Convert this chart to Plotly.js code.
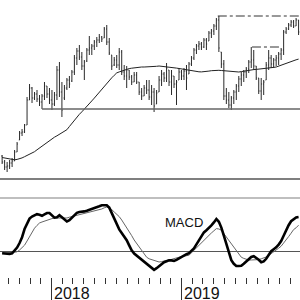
<!DOCTYPE html>
<html>
<head>
<meta charset="utf-8">
<script src="https://cdn.plot.ly/plotly-3.0.1.min.js"></script>
<style>html,body{margin:0;padding:0;background:#fff;}#chart{width:300px;height:300px;}</style>
</head>
<body>
<div id="chart"></div>
<script>
// Weekly dates
const dates = [
"2017-08-14","2017-08-21","2017-08-28","2017-09-04","2017-09-11","2017-09-18","2017-09-25","2017-10-02","2017-10-09","2017-10-16",
"2017-10-23","2017-10-30","2017-11-06","2017-11-13","2017-11-20","2017-11-27","2017-12-04","2017-12-11","2017-12-18","2017-12-25",
"2018-01-01","2018-01-08","2018-01-15","2018-01-22","2018-01-29","2018-02-05","2018-02-12","2018-02-19","2018-02-26","2018-03-05",
"2018-03-12","2018-03-19","2018-03-26","2018-04-02","2018-04-09","2018-04-16","2018-04-23","2018-04-30","2018-05-07","2018-05-14",
"2018-05-21","2018-05-28","2018-06-04","2018-06-11","2018-06-18","2018-06-25","2018-07-02","2018-07-09","2018-07-16","2018-07-23",
"2018-07-30","2018-08-06","2018-08-13","2018-08-20","2018-08-27","2018-09-03","2018-09-10","2018-09-17","2018-09-24","2018-10-01",
"2018-10-08","2018-10-15","2018-10-22","2018-10-29","2018-11-05","2018-11-12","2018-11-19","2018-11-26","2018-12-03","2018-12-10",
"2018-12-17","2018-12-24","2018-12-31","2019-01-07","2019-01-14","2019-01-21","2019-01-28","2019-02-04","2019-02-11","2019-02-18",
"2019-02-25","2019-03-04","2019-03-11","2019-03-18","2019-03-25","2019-04-01","2019-04-08","2019-04-15","2019-04-22","2019-04-29",
"2019-05-06","2019-05-13","2019-05-20","2019-05-27","2019-06-03","2019-06-10","2019-06-17","2019-06-24","2019-07-01","2019-07-08",
"2019-07-15","2019-07-22","2019-07-29","2019-08-05","2019-08-12","2019-08-19","2019-08-26","2019-09-02","2019-09-09","2019-09-16",
"2019-09-23","2019-09-30","2019-10-07","2019-10-14","2019-10-21","2019-10-28","2019-11-04","2019-11-11","2019-11-18","2019-11-25"];

const openP = [4.4,3.8,3.3,3.4,3.7,3.9,4.8,6.0,6.7,6.8, 7.5,10.0,11.2,10.2,10.6,10.1,9.8,10.4,11.4,10.6,
10.0,9.6,10.5,13.0,10.8,10.2,11.2,12.0,11.9,12.8, 14.2,14.9,14.3,13.4,13.9,15.0,15.2,15.4,15.8,16.0,
16.3,16.2,17.1,15.8,14.5,13.5,14.0,13.5,14.8,12.8, 12.4,13.0,12.3,11.8,12.5,11.8,10.8,10.4,11.2,11.0,
10.3,10.8,9.6,10.8,12.0,12.6,12.2,13.0,11.8,12.4, 11.6,12.0,12.8,12.4,12.9,12.6,13.6,14.2,15.0,15.4,
15.6,15.3,16.0,15.9,16.7,16.9,17.4,18.0,14.8,13.6, 10.4,10.0,9.5,10.2,10.8,11.4,12.1,12.5,12.8,13.1,
13.8,14.0,13.4,12.2,10.9,11.6,12.0,13.5,14.2,13.6, 14.0,14.2,14.6,15.0,16.8,17.1,17.5,17.8,17.4,18.0];
const highP = [4.5,4.0,3.8,4.0,4.2,5.0,5.8,6.9,7.1,7.6, 10.3,11.6,11.3,10.8,11.0,10.5,10.6,11.8,11.4,11.2,
11.0,10.8,13.4,13.8,11.8,11.5,12.2,12.4,13.0,14.5, 15.2,15.5,14.8,14.0,15.2,16.4,15.6,16.0,16.3,16.6,
16.4,17.3,17.5,16.2,14.5,14.3,14.5,15.2,15.0,13.5, 13.4,13.0,12.5,12.8,12.8,11.8,11.2,11.5,12.0,12.0,
11.5,11.2,11.0,12.4,13.0,12.8,13.7,13.0,13.0,12.4, 12.0,13.2,13.0,13.2,13.5,13.8,14.4,15.2,15.6,15.9,
15.8,16.2,16.2,16.9,17.1,17.6,18.2,18.4,14.8,14.0, 11.2,10.8,10.4,11.0,11.6,12.4,12.8,13.0,13.3,14.0,
15.3,15.0,13.4,12.2,12.2,12.0,13.8,15.0,14.5,14.2, 14.5,14.8,15.2,17.0,17.3,17.7,18.0,18.0,18.2,18.0];
const lowP = [3.6,3.0,2.8,3.1,3.3,3.9,4.8,6.0,6.4,6.7, 7.5,10.0,9.7,10.0,9.8,9.4,9.1,10.0,10.2,9.6,
9.0,9.4,10.0,10.3,8.3,10.0,11.0,11.2,11.8,12.5, 13.5,14.0,13.0,12.0,13.8,14.5,14.5,15.0,15.3,15.7,
15.8,16.2,15.5,14.5,13.0,13.4,13.2,13.0,12.5,12.0, 11.2,12.0,11.5,11.8,11.6,10.5,10.0,10.4,10.6,10.0,
9.5,8.8,9.6,10.8,11.4,11.8,11.8,11.4,10.5,11.2, 9.5,12.0,12.0,12.0,11.0,12.6,13.4,14.0,14.6,15.0,
15.0,15.2,15.0,15.9,16.2,16.5,17.0,14.8,13.2,10.0, 9.6,9.2,9.0,9.6,10.0,10.8,11.4,11.8,12.2,12.7,
13.2,13.0,12.0,10.6,10.0,10.5,12.0,13.0,13.2,13.2, 13.4,13.5,14.0,14.5,16.6,17.0,17.3,17.2,17.4,16.5];
const closeP = [3.8,3.3,3.4,3.7,3.9,4.8,5.6,6.7,6.8,7.5, 10.0,11.2,10.2,10.6,10.1,9.8,10.4,11.4,10.6,10.0,
9.6,10.5,13.0,10.8,9.0,11.2,12.0,11.6,12.8,14.2, 14.9,14.3,13.4,13.8,15.0,15.2,15.4,15.8,16.0,16.3,
16.1,17.1,15.8,14.7,13.4,14.0,13.5,14.8,12.8,12.4, 13.0,12.3,11.8,12.5,11.8,10.8,10.4,11.2,11.0,10.3,
10.8,9.4,10.7,12.0,12.6,12.2,13.2,11.8,12.4,11.6, 11.8,12.8,12.4,12.9,12.2,13.6,14.2,15.0,15.4,15.6,
15.3,16.0,15.6,16.7,16.9,17.4,18.0,15.2,13.6,10.4, 10.0,9.5,10.2,10.8,11.4,12.1,12.5,12.8,13.1,13.8,
14.0,13.4,12.2,10.9,11.6,11.8,13.5,14.2,13.6,14.0, 14.2,14.6,15.0,16.8,17.1,17.5,17.8,17.4,18.0,16.8];

// 40-week moving average
const movAvg = [4.25,4.19,4.13,4.08,4.02,4.02,4.06,4.10,4.21,4.33, 4.46,4.55,4.65,4.83,5.02,5.21,5.40,5.59,5.79,5.98,
6.13,6.28,6.42,6.57,6.72,6.86,7.03,7.35,7.68,8.00, 8.32,8.57,8.82,9.07,9.32,9.61,9.91,10.19,10.49,10.79,
11.10,11.40,11.72,11.97,12.22,12.47,12.71,12.81,12.91,13.01, 13.10,13.14,13.18,13.22,13.26,13.30,13.30,13.30,13.30,13.30,
13.32,13.35,13.37,13.40,13.38,13.35,13.33,13.30,13.27,13.23, 13.19,13.15,13.10,13.05,13.01,12.96,12.91,12.87,12.84,12.82,
12.81,12.82,12.86,12.89,12.93,12.96,13.00,12.97,12.95,12.92, 12.90,12.88,12.86,12.84,12.82,12.80,12.84,12.89,12.94,12.99,
13.02,13.04,13.06,13.08,13.10,13.12,13.16,13.19,13.23,13.26, 13.30,13.40,13.49,13.59,13.68,13.78,13.87,13.94,14.02,14.09];

// MACD and signal
const macd = [-0.06,-0.08,-0.09,-0.10,-0.07,0.05,0.22,0.45,0.74,1.15, 1.42,1.67,1.77,1.84,1.89,1.86,1.81,1.88,1.95,1.95,
1.84,1.72,1.74,1.84,1.74,1.61,1.53,1.59,1.71,1.84, 1.96,2.00,2.00,2.03,2.06,2.10,2.14,2.19,2.24,2.29,
2.34,2.35,2.34,2.22,1.94,1.64,1.38,1.13,0.95,0.77, 0.59,0.33,0.08,-0.08,-0.18,-0.29,-0.38,-0.47,-0.56,-0.65,
-0.76,-0.89,-0.81,-0.71,-0.59,-0.51,-0.46,-0.41,-0.42,-0.45, -0.39,-0.31,-0.24,-0.16,-0.11,-0.06,0.06,0.18,0.38,0.58,
0.78,0.98,1.09,1.19,1.33,1.48,1.65,1.51,1.22,0.82, 0.42,0.08,-0.41,-0.59,-0.70,-0.70,-0.69,-0.59,-0.49,-0.37,
-0.25,-0.21,-0.29,-0.39,-0.51,-0.47,-0.34,-0.17,0.04,0.14, 0.23,0.37,0.55,0.81,1.11,1.34,1.54,1.66,1.73,1.75];
const signal = [-0.05,-0.05,-0.03,-0.02,-0.02,-0.01,0.01,0.10,0.23,0.34, 0.55,0.79,1.03,1.19,1.33,1.45,1.50,1.55,1.60,1.64,
1.67,1.70,1.70,1.70,1.70,1.70,1.70,1.74,1.77,1.80, 1.83,1.86,1.89,1.92,1.96,1.99,2.02,2.05,2.07,2.10,
2.15,2.21,2.25,2.18,2.12,2.00,1.89,1.77,1.60,1.42, 1.24,1.03,0.82,0.60,0.42,0.23,0.09,-0.10,-0.26,-0.34,
-0.39,-0.42,-0.46,-0.50,-0.48,-0.46,-0.43,-0.41,-0.37,-0.33, -0.29,-0.26,-0.23,-0.21,-0.18,-0.16,-0.04,0.09,0.21,0.34,
0.46,0.59,0.71,0.84,0.95,1.06,1.17,1.15,1.09,0.92, 0.76,0.59,0.42,0.24,0.08,-0.10,-0.26,-0.32,-0.36,-0.40,
-0.40,-0.40,-0.40,-0.38,-0.34,-0.31,-0.25,-0.17,-0.09,0.01, 0.10,0.19,0.29,0.44,0.58,0.77,0.94,1.12,1.21,1.34];

// Drawn levels
const supportDates = ["2017-12-04","2019-11-29"];
const supportLevel = [9.1, 9.1];
const resist1Dates = ["2019-04-12","2019-11-29"];
const resist1Level = [18.4, 18.4];
const resist2Dates = ["2019-07-17","2019-10-09"];
const resist2Level = [15.3, 15.3];

// Axis labels
const yearTickVals = ["2018-01-01","2019-01-01"];
const yearTickText = ["2018","2019"];
const macdLabel = {text: "MACD", x: "2019-01-07", y: 1.45};

const font = "Liberation Sans, Arial, sans-serif";

const traces = [
  {type:"ohlc", x:dates, open:openP, high:highP, low:lowP, close:closeP,
   xaxis:"x", yaxis:"y", tickwidth:0.3,
   increasing:{line:{color:"#2a2a2a", width:1}}, decreasing:{line:{color:"#2a2a2a", width:1}}, hoverinfo:"skip"},
  {type:"scatter", mode:"lines", x:dates, y:movAvg, xaxis:"x", yaxis:"y", line:{color:"#222", width:1}, hoverinfo:"skip"},
  {type:"scatter", mode:"lines", x:supportDates, y:supportLevel, xaxis:"x", yaxis:"y", line:{color:"#666", width:1.6}, hoverinfo:"skip"},
  {type:"scatter", mode:"lines", x:resist1Dates, y:resist1Level, xaxis:"x", yaxis:"y", line:{color:"#333", width:1, dash:"dashdot"}, hoverinfo:"skip"},
  {type:"scatter", mode:"lines", x:resist2Dates, y:resist2Level, xaxis:"x", yaxis:"y", line:{color:"#333", width:1, dash:"dashdot"}, hoverinfo:"skip"},
  {type:"scatter", mode:"lines", x:dates, y:signal, xaxis:"x", yaxis:"y2", line:{color:"#666", width:1}, hoverinfo:"skip"},
  {type:"scatter", mode:"lines", x:dates, y:macd, xaxis:"x", yaxis:"y2", line:{color:"#000", width:2.6}, hoverinfo:"skip"}
];

const layout = {
  width:300, height:300,
  margin:{l:0, r:0, t:0, b:23},
  paper_bgcolor:"#fff", plot_bgcolor:"#fff",
  showlegend:false,
  font:{family:font, color:"#111"},
  xaxis:{type:"date", range:["2017-08-08","2019-11-29"], anchor:"y2",
    rangeslider:{visible:false}, showgrid:false, zeroline:false, showline:false,
    tickmode:"array", tickvals:yearTickVals, ticktext:yearTickText,
    ticks:"outside", ticklen:23, tickwidth:1, tickcolor:"#333", showticklabels:false,
    minor:{ticks:"outside", ticklen:6, tickwidth:1, tickcolor:"#333", dtick:"M1", tick0:"2018-01-01", showgrid:false}},
  yaxis:{domain:[0.3538, 1], range:[2.1, 20], visible:false, showgrid:false, zeroline:false},
  yaxis2:{domain:[0, 0.2852], range:[-1.25, 2.7], showgrid:false, showticklabels:false, ticks:"",
    showline:false, zeroline:true, zerolinecolor:"#555", zerolinewidth:1},
  shapes:[
    {type:"line", xref:"paper", yref:"paper", x0:0, x1:1, y0:0.3538, y1:0.3538, line:{color:"#555", width:1.5}},
    {type:"line", xref:"paper", yref:"paper", x0:0, x1:1, y0:0.2852, y1:0.2852, line:{color:"#aaa", width:1.5}}
  ],
  annotations: yearTickVals.map((d,i)=>({x:d, xref:"x", y:-0.022, yref:"paper", text:yearTickText[i],
      showarrow:false, xanchor:"left", yanchor:"top", xshift:0, font:{size:16, color:"#111", family:font}}))
    .concat([{x:macdLabel.x, y:macdLabel.y, xref:"x", yref:"y2", text:macdLabel.text, showarrow:false,
      xanchor:"center", yanchor:"middle", font:{size:13, color:"#111", family:font}}])
};

Plotly.newPlot("chart", traces, layout, {staticPlot:true, displayModeBar:false});
</script>
</body>
</html>
